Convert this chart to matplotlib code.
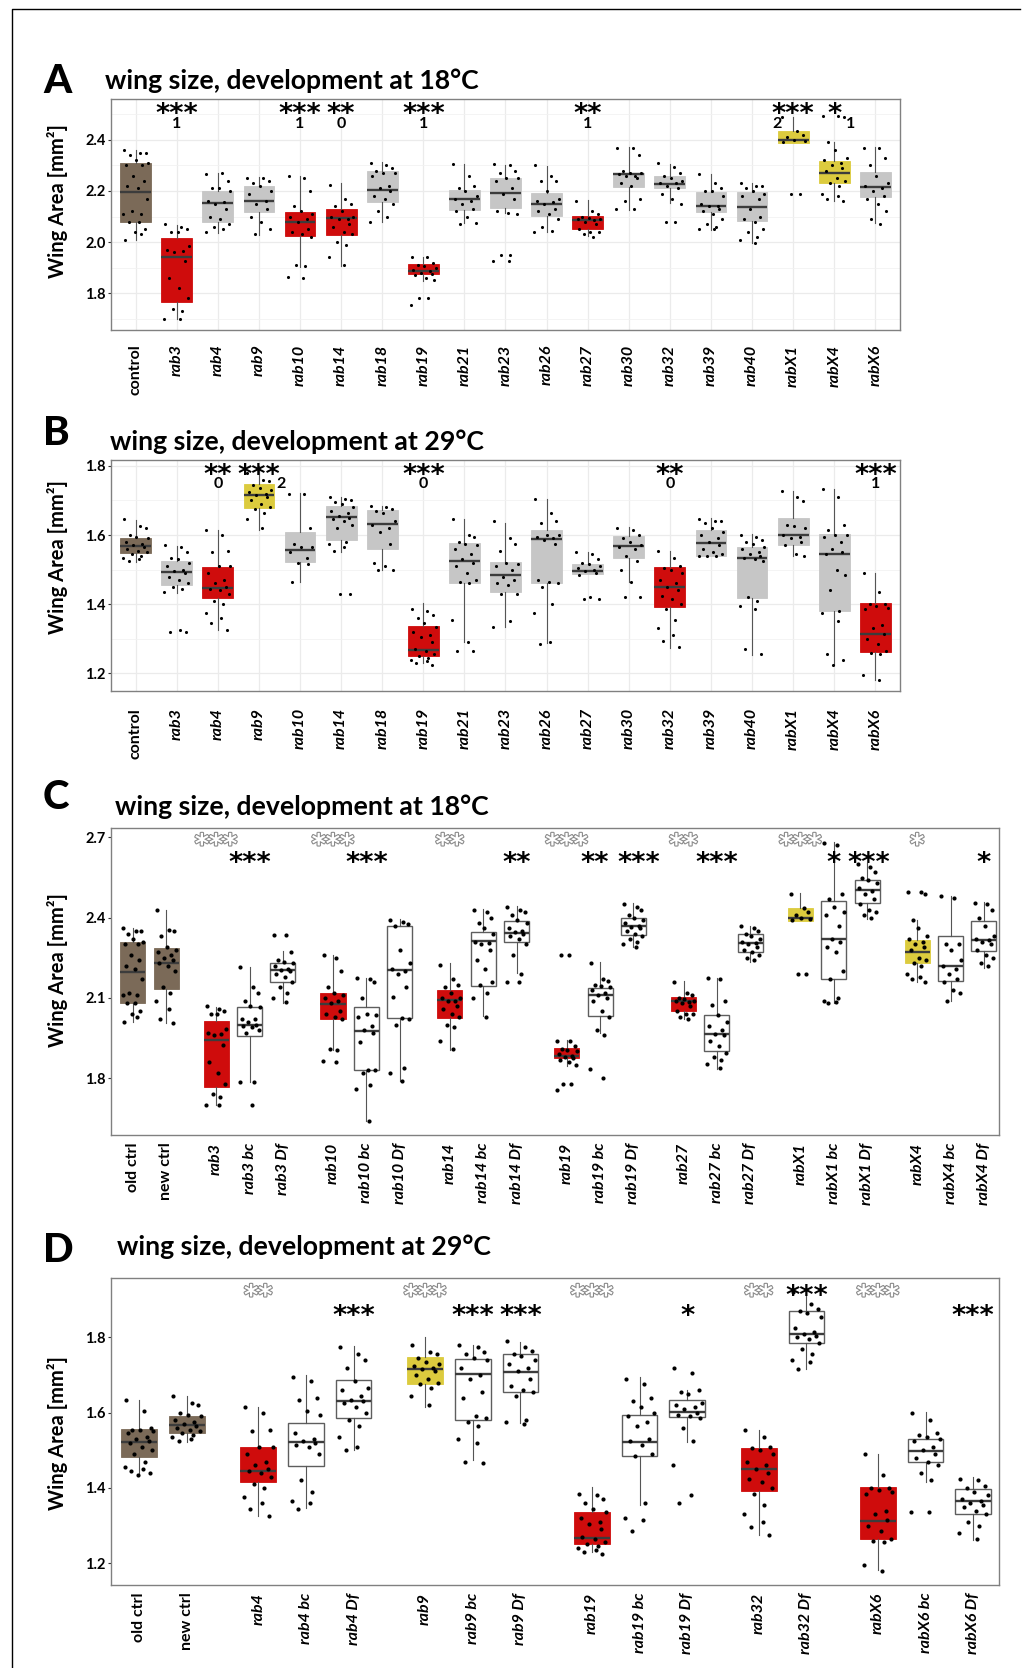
import matplotlib
matplotlib.use('Agg')
import matplotlib.pyplot as plt
import matplotlib.patheffects as pe
from matplotlib.lines import Line2D
from matplotlib.transforms import blended_transform_factory

plt.rcParams['font.family'] = ['Lato', 'DejaVu Sans']

W, H = 1023, 1668

# ---------------- panel A : 18C screen ----------------
a_labels = ['control', 'rab3', 'rab4', 'rab9', 'rab10', 'rab14', 'rab18', 'rab19', 'rab21', 'rab23',
            'rab26', 'rab27', 'rab30', 'rab32', 'rab39', 'rab40', 'rabX1', 'rabX4', 'rabX6']
a_fill = ['c', 'r', 'g', 'g', 'r', 'r', 'g', 'r', 'g', 'g', 'g', 'r', 'g', 'g', 'g', 'g', 'y', 'y', 'g']
a_lo = [2.01, 1.70, 2.037, 2.026, 1.904, 1.907, 2.077, 1.846, 2.074, 2.113,
        2.041, 2.022, 2.126, 2.152, 2.048, 1.996, 2.386, 2.159, 2.074]
a_q1 = [2.080, 1.767, 2.078, 2.116, 2.022, 2.026, 2.156, 1.876, 2.126, 2.133,
        2.103, 2.050, 2.217, 2.211, 2.116, 2.084, 2.386, 2.230, 2.178]
a_med = [2.197, 1.943, 2.152, 2.159, 2.078, 2.093, 2.204, 1.885, 2.168, 2.191,
         2.150, 2.087, 2.266, 2.228, 2.140, 2.139, 2.400, 2.271, 2.217]
a_q3 = [2.309, 2.015, 2.200, 2.221, 2.117, 2.129, 2.277, 1.913, 2.204, 2.250,
        2.191, 2.104, 2.272, 2.257, 2.198, 2.198, 2.435, 2.318, 2.273]
a_hi = [2.36, 2.067, 2.27, 2.253, 2.259, 2.23, 2.315, 1.943, 2.305, 2.302,
        2.298, 2.165, 2.374, 2.306, 2.266, 2.23, 2.491, 2.393, 2.371]
a_pts = [
    [2.36, 2.35, 2.35, 2.34, 2.32, 2.31, 2.30, 2.30, 2.26, 2.24, 2.22, 2.21, 2.17, 2.12, 2.11, 2.11, 2.08, 2.08, 2.05, 2.04, 2.03, 2.01],
    [2.07, 2.06, 2.05, 2.04, 2.04, 1.985, 1.97, 1.965, 1.96, 1.925, 1.86, 1.82, 1.78, 1.74, 1.73, 1.70, 1.70],
    [2.265, 2.27, 2.24, 2.21, 2.21, 2.2, 2.16, 2.155, 2.15, 2.13, 2.1, 2.09, 2.07, 2.06, 2.05, 2.04],
    [2.25, 2.25, 2.24, 2.23, 2.22, 2.2, 2.19, 2.16, 2.15, 2.13, 2.1, 2.08, 2.05, 2.03],
    [2.26, 2.25, 2.2, 2.14, 2.12, 2.11, 2.1, 2.09, 2.08, 2.05, 2.04, 2.03, 2.02, 1.91, 1.905, 1.865, 1.86],
    [2.225, 2.17, 2.15, 2.14, 2.12, 2.1, 2.1, 2.09, 2.09, 2.07, 2.06, 2.04, 2.03, 2.0, 1.99, 1.94, 1.91],
    [2.31, 2.3, 2.29, 2.28, 2.27, 2.27, 2.26, 2.22, 2.21, 2.2, 2.18, 2.17, 2.15, 2.12, 2.1, 2.08],
    [1.94, 1.94, 1.92, 1.91, 1.905, 1.9, 1.89, 1.885, 1.88, 1.875, 1.87, 1.86, 1.85, 1.78, 1.78, 1.755],
    [2.305, 2.26, 2.22, 2.21, 2.2, 2.18, 2.17, 2.16, 2.15, 2.13, 2.12, 2.1, 2.075, 2.07],
    [2.305, 2.3, 2.28, 2.27, 2.25, 2.25, 2.24, 2.21, 2.19, 2.17, 2.12, 2.115, 2.11, 1.95, 1.95, 1.925, 1.925],
    [2.3, 2.26, 2.24, 2.24, 2.2, 2.17, 2.16, 2.155, 2.15, 2.13, 2.12, 2.11, 2.09, 2.06, 2.045, 2.04],
    [2.16, 2.12, 2.11, 2.1, 2.095, 2.09, 2.09, 2.085, 2.08, 2.07, 2.05, 2.04, 2.04, 2.03, 2.02],
    [2.37, 2.37, 2.34, 2.28, 2.27, 2.27, 2.265, 2.26, 2.26, 2.25, 2.23, 2.22, 2.17, 2.16, 2.13, 2.13],
    [2.31, 2.295, 2.27, 2.26, 2.25, 2.24, 2.23, 2.23, 2.22, 2.21, 2.19, 2.17, 2.15, 2.08, 2.08],
    [2.265, 2.23, 2.21, 2.2, 2.2, 2.18, 2.15, 2.14, 2.14, 2.13, 2.12, 2.11, 2.09, 2.07, 2.06, 2.05, 2.05],
    [2.23, 2.22, 2.22, 2.21, 2.2, 2.19, 2.18, 2.17, 2.13, 2.1, 2.09, 2.08, 2.05, 2.04, 2.02, 2.01, 1.995],
    [2.49, 2.435, 2.42, 2.41, 2.4, 2.395, 2.39, 2.19, 2.19],
    [2.495, 2.495, 2.49, 2.39, 2.36, 2.33, 2.32, 2.31, 2.3, 2.29, 2.28, 2.25, 2.24, 2.23, 2.22, 2.19, 2.18, 2.17, 2.16],
    [2.37, 2.37, 2.33, 2.3, 2.26, 2.23, 2.22, 2.21, 2.2, 2.18, 2.17, 2.15, 2.12, 2.09, 2.07],
]
a_sig = {'rab3': '***', 'rab10': '***', 'rab14': '**', 'rab19': '***', 'rab27': '**', 'rabX1': '***', 'rabX4': '*'}
a_num = [('rab3', '1', 0), ('rab10', '1', 0), ('rab14', '0', 0), ('rab19', '1', 0), ('rab27', '1', 0),
         ('rabX1', '2', -0.4), ('rabX4', '1', 0.4)]

# ---------------- panel B : 29C screen ----------------
b_labels = a_labels
b_fill = ['c', 'g', 'r', 'y', 'g', 'g', 'g', 'r', 'g', 'g', 'g', 'g', 'g', 'r', 'g', 'g', 'g', 'g', 'r']
b_lo = [1.521, 1.432, 1.325, 1.615, 1.465, 1.552, 1.499, 1.229, 1.292, 1.335,
        1.289, 1.487, 1.465, 1.274, 1.54, 1.253, 1.538, 1.224, 1.181]
b_q1 = [1.547, 1.456, 1.417, 1.677, 1.523, 1.586, 1.561, 1.250, 1.462, 1.436,
        1.460, 1.487, 1.534, 1.391, 1.540, 1.417, 1.571, 1.380, 1.263]
b_med = [1.567, 1.493, 1.446, 1.717, 1.557, 1.651, 1.632, 1.268, 1.526, 1.483,
         1.588, 1.497, 1.567, 1.451, 1.576, 1.535, 1.600, 1.545, 1.313]
b_q3 = [1.591, 1.525, 1.509, 1.747, 1.608, 1.684, 1.673, 1.337, 1.576, 1.521,
        1.615, 1.515, 1.597, 1.507, 1.615, 1.564, 1.649, 1.603, 1.403]
b_hi = [1.644, 1.569, 1.615, 1.80, 1.721, 1.709, 1.684, 1.403, 1.646, 1.636,
        1.704, 1.552, 1.622, 1.554, 1.649, 1.602, 1.728, 1.732, 1.491]
b_pts = [
    [1.645, 1.625, 1.62, 1.6, 1.595, 1.59, 1.58, 1.575, 1.57, 1.565, 1.56, 1.555, 1.55, 1.545, 1.54, 1.535, 1.53, 1.525],
    [1.57, 1.565, 1.55, 1.535, 1.53, 1.52, 1.51, 1.5, 1.495, 1.49, 1.48, 1.47, 1.46, 1.45, 1.445, 1.435, 1.325, 1.32, 1.32],
    [1.615, 1.6, 1.555, 1.55, 1.51, 1.51, 1.49, 1.47, 1.46, 1.45, 1.445, 1.44, 1.43, 1.41, 1.4, 1.375, 1.36, 1.345, 1.325],
    [1.78, 1.76, 1.755, 1.745, 1.735, 1.73, 1.725, 1.72, 1.715, 1.71, 1.7, 1.69, 1.68, 1.675, 1.665, 1.645, 1.62],
    [1.72, 1.72, 1.62, 1.575, 1.565, 1.565, 1.55, 1.535, 1.52, 1.515, 1.465],
    [1.71, 1.705, 1.7, 1.695, 1.69, 1.68, 1.67, 1.665, 1.655, 1.65, 1.645, 1.64, 1.63, 1.62, 1.58, 1.575, 1.565, 1.555, 1.43, 1.43],
    [1.685, 1.68, 1.675, 1.67, 1.665, 1.64, 1.63, 1.62, 1.61, 1.575, 1.52, 1.51, 1.5, 1.5],
    [1.385, 1.38, 1.37, 1.36, 1.345, 1.335, 1.32, 1.31, 1.305, 1.29, 1.27, 1.265, 1.255, 1.25, 1.245, 1.24, 1.235, 1.23, 1.225],
    [1.645, 1.6, 1.595, 1.58, 1.575, 1.57, 1.56, 1.545, 1.53, 1.52, 1.51, 1.49, 1.47, 1.465, 1.46, 1.355, 1.29, 1.265, 1.265],
    [1.64, 1.59, 1.575, 1.555, 1.52, 1.515, 1.51, 1.5, 1.48, 1.47, 1.46, 1.455, 1.43, 1.43, 1.35, 1.335],
    [1.705, 1.665, 1.64, 1.635, 1.6, 1.6, 1.595, 1.59, 1.585, 1.575, 1.47, 1.465, 1.46, 1.45, 1.4, 1.375, 1.29, 1.285],
    [1.55, 1.545, 1.53, 1.52, 1.515, 1.51, 1.505, 1.5, 1.495, 1.49, 1.485, 1.42, 1.415, 1.415],
    [1.62, 1.615, 1.6, 1.59, 1.58, 1.57, 1.565, 1.56, 1.54, 1.525, 1.5, 1.465, 1.42, 1.42],
    [1.555, 1.535, 1.51, 1.505, 1.5, 1.49, 1.47, 1.46, 1.45, 1.44, 1.425, 1.415, 1.4, 1.385, 1.355, 1.33, 1.31, 1.295, 1.275],
    [1.645, 1.64, 1.64, 1.635, 1.62, 1.61, 1.6, 1.59, 1.58, 1.57, 1.56, 1.55, 1.545, 1.54, 1.54, 1.54],
    [1.6, 1.595, 1.585, 1.58, 1.575, 1.565, 1.56, 1.55, 1.545, 1.54, 1.535, 1.53, 1.525, 1.42, 1.41, 1.395, 1.385, 1.27, 1.255],
    [1.727, 1.71, 1.697, 1.63, 1.625, 1.62, 1.6, 1.595, 1.59, 1.58, 1.57, 1.545, 1.54],
    [1.733, 1.71, 1.63, 1.615, 1.6, 1.6, 1.595, 1.58, 1.56, 1.55, 1.545, 1.5, 1.485, 1.44, 1.38, 1.375, 1.35, 1.255, 1.24, 1.225],
    [1.49, 1.435, 1.4, 1.4, 1.395, 1.39, 1.385, 1.34, 1.33, 1.315, 1.3, 1.285, 1.265, 1.26, 1.255, 1.195, 1.18],
]
b_sig = {'rab4': '**', 'rab9': '***', 'rab19': '***', 'rab32': '**', 'rabX6': '***'}
b_num = [('rab4', '0', 0), ('rab9', '2', 0.55), ('rab19', '0', 0), ('rab32', '0', 0), ('rabX6', '1', 0)]

# ---------------- panel C : 18C validation ----------------
c_groups = [['old ctrl', 'new ctrl'], ['rab3', 'rab3 bc', 'rab3 Df'], ['rab10', 'rab10 bc', 'rab10 Df'],
            ['rab14', 'rab14 bc', 'rab14 Df'], ['rab19', 'rab19 bc', 'rab19 Df'],
            ['rab27', 'rab27 bc', 'rab27 Df'], ['rabX1', 'rabX1 bc', 'rabX1 Df'],
            ['rabX4', 'rabX4 bc', 'rabX4 Df']]
c_from_a = {'old ctrl': 'control'}   # lines shared with panel A
c_labels = ['new ctrl', 'rab3 bc', 'rab3 Df', 'rab10 bc', 'rab10 Df', 'rab14 bc', 'rab14 Df',
            'rab19 bc', 'rab19 Df', 'rab27 bc', 'rab27 Df', 'rabX1 bc', 'rabX1 Df', 'rabX4 bc', 'rabX4 Df']
c_lo = [2.006, 1.787, 2.083, 1.64, 1.791, 2.031, 2.193, 1.968, 2.289, 1.835, 2.236, 2.08, 2.395, 2.09, 2.211]
c_q1 = [2.134, 1.958, 2.161, 1.831, 2.024, 2.145, 2.308, 2.031, 2.336, 1.902, 2.270, 2.170, 2.454, 2.164, 2.274]
c_med = [2.230, 2.000, 2.203, 1.975, 2.205, 2.311, 2.342, 2.112, 2.367, 1.965, 2.307, 2.320, 2.504, 2.220, 2.317]
c_q3 = [2.286, 2.068, 2.230, 2.066, 2.370, 2.347, 2.388, 2.137, 2.398, 2.037, 2.340, 2.464, 2.542, 2.332, 2.386]
c_hi = [2.43, 2.215, 2.276, 2.174, 2.395, 2.432, 2.444, 2.233, 2.454, 2.174, 2.370, 2.681, 2.604, 2.482, 2.458]
c_pts = [
    [2.43, 2.355, 2.35, 2.33, 2.29, 2.28, 2.27, 2.26, 2.25, 2.24, 2.23, 2.22, 2.2, 2.14, 2.12, 2.09, 2.06, 2.02, 2.005],
    [2.215, 2.14, 2.12, 2.09, 2.07, 2.065, 2.02, 2.02, 2.01, 2.0, 1.995, 1.99, 1.98, 1.97, 1.785, 1.785, 1.7],
    [2.335, 2.335, 2.27, 2.24, 2.235, 2.23, 2.22, 2.21, 2.205, 2.2, 2.19, 2.18, 2.16, 2.14, 2.12, 2.1, 2.085],
    [2.175, 2.17, 2.16, 2.1, 2.04, 2.035, 2.03, 1.995, 1.98, 1.97, 1.935, 1.83, 1.83, 1.82, 1.775, 1.76, 1.64],
    [2.39, 2.385, 2.375, 2.37, 2.28, 2.23, 2.21, 2.2, 2.19, 2.14, 2.105, 2.025, 2.02, 2.0, 1.84, 1.82, 1.79],
    [2.43, 2.42, 2.4, 2.38, 2.36, 2.34, 2.31, 2.305, 2.3, 2.28, 2.24, 2.21, 2.16, 2.15, 2.12, 2.1, 2.03],
    [2.44, 2.43, 2.42, 2.41, 2.39, 2.38, 2.36, 2.35, 2.345, 2.34, 2.33, 2.32, 2.3, 2.26, 2.19, 2.16, 2.16],
    [2.23, 2.17, 2.165, 2.15, 2.145, 2.14, 2.13, 2.12, 2.11, 2.1, 2.09, 2.05, 2.03, 1.98, 1.96, 1.835, 1.8],
    [2.45, 2.44, 2.43, 2.41, 2.4, 2.39, 2.38, 2.37, 2.365, 2.36, 2.35, 2.34, 2.33, 2.32, 2.31, 2.3, 2.29],
    [2.175, 2.17, 2.09, 2.075, 2.035, 2.01, 1.995, 1.98, 1.965, 1.96, 1.94, 1.92, 1.895, 1.88, 1.87, 1.855, 1.84],
    [2.37, 2.36, 2.35, 2.34, 2.33, 2.32, 2.31, 2.305, 2.3, 2.29, 2.28, 2.27, 2.26, 2.25, 2.24],
    [2.68, 2.67, 2.49, 2.47, 2.44, 2.42, 2.41, 2.37, 2.32, 2.31, 2.29, 2.27, 2.2, 2.17, 2.1, 2.09, 2.085, 2.08],
    [2.6, 2.59, 2.57, 2.55, 2.54, 2.53, 2.51, 2.5, 2.49, 2.47, 2.45, 2.43, 2.42, 2.41, 2.4],
    [2.48, 2.475, 2.3, 2.3, 2.28, 2.24, 2.22, 2.21, 2.19, 2.17, 2.16, 2.13, 2.12, 2.09],
    [2.455, 2.45, 2.43, 2.4, 2.37, 2.33, 2.32, 2.315, 2.31, 2.3, 2.28, 2.26, 2.25, 2.23, 2.22],
]
c_rab19_extra = [2.26, 2.26]
c_gray = {'rab3': '***', 'rab10': '***', 'rab14': '**', 'rab19': '***', 'rab27': '**', 'rabX1': '***', 'rabX4': '*'}
c_black = [('rab3 bc', '***', 0), ('rab10 bc', '***', 0), ('rab14 Df', '**', 0), ('rab19 bc', '**', -0.15),
           ('rab19 Df', '***', 0.15), ('rab27 bc', '***', 0), ('rabX1 bc', '*', 0), ('rabX1 Df', '***', 0.05),
           ('rabX4 Df', '*', 0)]

# ---------------- panel D : 29C validation ----------------
d_groups = [['old ctrl', 'new ctrl'], ['rab4', 'rab4 bc', 'rab4 Df'], ['rab9', 'rab9 bc', 'rab9 Df'],
            ['rab19', 'rab19 bc', 'rab19 Df'], ['rab32', 'rab32 Df'], ['rabX6', 'rabX6 bc', 'rabX6 Df']]
d_from_b = {'new ctrl': 'control'}   # lines shared with panel B
d_labels = ['old ctrl', 'rab4 bc', 'rab4 Df', 'rab9 bc', 'rab9 Df', 'rab19 bc', 'rab19 Df',
            'rab32 Df', 'rabX6 bc', 'rabX6 Df']
d_lo = [1.439, 1.346, 1.501, 1.475, 1.572, 1.355, 1.521, 1.716, 1.417, 1.262]
d_q1 = [1.481, 1.457, 1.586, 1.581, 1.654, 1.484, 1.588, 1.785, 1.469, 1.330]
d_med = [1.523, 1.523, 1.632, 1.703, 1.707, 1.522, 1.602, 1.808, 1.498, 1.364]
d_q3 = [1.556, 1.572, 1.687, 1.742, 1.756, 1.595, 1.633, 1.869, 1.530, 1.397]
d_hi = [1.634, 1.699, 1.778, 1.780, 1.788, 1.695, 1.661, 1.920, 1.603, 1.429]
d_pts = [
    [1.635, 1.605, 1.56, 1.555, 1.555, 1.55, 1.545, 1.535, 1.53, 1.525, 1.52, 1.51, 1.5, 1.49, 1.47, 1.455, 1.45, 1.445, 1.44, 1.435],
    [1.695, 1.685, 1.64, 1.635, 1.605, 1.595, 1.545, 1.53, 1.525, 1.52, 1.515, 1.51, 1.49, 1.42, 1.39, 1.365, 1.36, 1.345],
    [1.775, 1.755, 1.74, 1.72, 1.685, 1.665, 1.66, 1.645, 1.635, 1.63, 1.625, 1.615, 1.6, 1.58, 1.565, 1.535, 1.51, 1.5],
    [1.78, 1.775, 1.76, 1.755, 1.745, 1.74, 1.72, 1.7, 1.69, 1.655, 1.64, 1.59, 1.585, 1.575, 1.565, 1.53, 1.52, 1.47, 1.465],
    [1.79, 1.775, 1.765, 1.755, 1.75, 1.74, 1.73, 1.72, 1.71, 1.69, 1.67, 1.66, 1.655, 1.645, 1.58, 1.575, 1.57],
    [1.69, 1.675, 1.64, 1.63, 1.615, 1.6, 1.59, 1.575, 1.565, 1.53, 1.525, 1.515, 1.49, 1.485, 1.36, 1.32, 1.315, 1.285],
    [1.72, 1.705, 1.66, 1.655, 1.65, 1.625, 1.62, 1.615, 1.61, 1.6, 1.595, 1.59, 1.585, 1.56, 1.525, 1.46, 1.38, 1.36],
    [1.92, 1.89, 1.875, 1.87, 1.865, 1.855, 1.825, 1.815, 1.81, 1.805, 1.8, 1.795, 1.785, 1.77, 1.755, 1.74, 1.735, 1.715],
    [1.6, 1.58, 1.545, 1.54, 1.535, 1.53, 1.525, 1.51, 1.5, 1.49, 1.48, 1.47, 1.46, 1.44, 1.42, 1.335, 1.335],
    [1.425, 1.42, 1.405, 1.4, 1.39, 1.38, 1.37, 1.365, 1.36, 1.355, 1.35, 1.34, 1.33, 1.31, 1.3, 1.28, 1.265],
]
d_gray = {'rab4': '**', 'rab9': '***', 'rab19': '***', 'rab32': '**', 'rabX6': '***'}
d_black = {'rab4 Df': '***', 'rab9 bc': '***', 'rab9 Df': '***', 'rab19 Df': '*', 'rabX6 Df': '***'}
d_black_high = {'rab32 Df': '***'}

# ---------------- styling ----------------
FILLS = {'c': '#7b6a58', 'r': '#cf0c0c', 'y': '#dccb3e', 'g': '#c6c6c6', 'w': 'white'}
RED = ['rab3', 'rab10', 'rab14', 'rab19', 'rab27', 'rab4', 'rab32', 'rabX6']
YEL = ['rabX1', 'rabX4', 'rab9']
JIT = [-0.28, 0.10, 0.24, -0.14, 0.02, 0.30, -0.24, 0.16, -0.06, 0.20, -0.20, 0.06,
       0.27, -0.10, 0.12, -0.30, 0.08, -0.17, 0.22, -0.02, 0.14, -0.26]
STAR_FONT = ['DejaVu Sans']


def table(labels, lo, q1, med, q3, hi, pts):
    return {lab: (lo[i], q1[i], med[i], q3[i], hi[i], pts[i]) for i, lab in enumerate(labels)}


A = table(a_labels, a_lo, a_q1, a_med, a_q3, a_hi, a_pts)
B = table(b_labels, b_lo, b_q1, b_med, b_q3, b_hi, b_pts)
C = table(c_labels, c_lo, c_q1, c_med, c_q3, c_hi, c_pts)
D = table(d_labels, d_lo, d_q1, d_med, d_q3, d_hi, d_pts)
for lab in a_labels:
    if lab not in C:
        C[lab] = A[lab]
for k, v in c_from_a.items():
    C[k] = A[v]
C['rab19'] = C['rab19'][:5] + (C['rab19'][5] + c_rab19_extra,)
for lab in b_labels:
    if lab not in D:
        D[lab] = B[lab]
for k, v in d_from_b.items():
    D[k] = B[v]


def fill_of(lab):
    if 'ctrl' in lab or lab == 'control':
        return 'c'
    if ' ' in lab:
        return 'w'
    if lab in RED:
        return 'r'
    if lab in YEL:
        return 'y'
    return 'g'


def positions(groups, gap=1.5):
    labs, pos, x = [], [], 0.0
    for gi, g in enumerate(groups):
        if gi > 0:
            x += gap - 1
        for lab in g:
            labs.append(lab)
            pos.append(x)
            x += 1
    return labs, pos


fig = plt.figure(figsize=(W / 100, H / 100), dpi=100)
fig.patch.set_facecolor('white')


def make_axes(x0, y0, x1, y1):
    return fig.add_axes([x0 / W, 1 - y1 / H, (x1 - x0) / W, (y1 - y0) / H])


def draw_panel(ax, labs, pos, data, fills, ylim, yticks, grid, minor=None, dot=5):
    stats = [dict(whislo=data[l][0], q1=data[l][1], med=data[l][2], q3=data[l][3],
                  whishi=data[l][4], fliers=[]) for l in labs]
    bp = ax.bxp(stats, positions=pos, widths=0.75, patch_artist=True, showfliers=False,
                showcaps=False, manage_ticks=False,
                whiskerprops=dict(color='#555555', lw=0.8),
                medianprops=dict(color='#3c3c3c', lw=1.7, solid_capstyle='butt'))
    for box, f in zip(bp['boxes'], fills):
        if f == 'w':
            box.set_facecolor('white')
            box.set_edgecolor('#5e5e5e')
            box.set_linewidth(1.0)
        else:
            box.set_facecolor(FILLS[f])
            box.set_edgecolor(FILLS[f])
            box.set_linewidth(0.6)
        box.set_zorder(2)
    for m in bp['medians']:
        m.set_zorder(3)
    for l, p in zip(labs, pos):
        ys = data[l][5]
        xs = [p + JIT[k % len(JIT)] for k in range(len(ys))]
        ax.scatter(xs, ys, s=dot, color='black', zorder=4, linewidths=0)
    ax.set_ylim(*ylim)
    ax.set_yticks(yticks)
    ax.set_yticklabels(['%.1f' % t for t in yticks], fontsize=10.5, fontweight='bold')
    ax.set_xticks(pos)
    ax.set_xticklabels(labs, rotation=90, fontsize=11.5, fontweight='bold')
    for t in ax.get_xticklabels():
        if 'ctrl' not in t.get_text() and t.get_text() != 'control':
            t.set_style('italic')
    ax.tick_params(axis='x', length=0)
    ax.tick_params(axis='y', length=2.5, width=0.8, color='#333333', pad=1.5)
    for s in ax.spines.values():
        s.set_color('#808080')
        s.set_linewidth(1.0)
    if grid:
        ax.set_axisbelow(True)
        ax.grid(True, which='major', color='#ebebeb', lw=0.9)
        if minor:
            ax.set_yticks(minor, minor=True)
            ax.tick_params(axis='y', which='minor', length=0)
            ax.grid(True, which='minor', axis='y', color='#f2f2f2', lw=0.6)


def yfrac(px, top, bot):
    return (bot - px) / (bot - top)


def stars(ax, x, txt, yf, gray=False, size=19.5):
    tr = blended_transform_factory(ax.transData, ax.transAxes)
    if gray:
        ax.text(x, yf, txt, transform=tr, ha='center', va='center', fontsize=size, color='white',
                fontweight='bold', family=STAR_FONT, zorder=6,
                path_effects=[pe.withStroke(linewidth=1.6, foreground='#8a8a8a')])
    else:
        ax.text(x, yf, txt, transform=tr, ha='center', va='center', fontsize=size, color='black',
                fontweight='bold', family=STAR_FONT, zorder=6)


def num(ax, x, txt, yf):
    tr = blended_transform_factory(ax.transData, ax.transAxes)
    ax.text(x, yf, txt, transform=tr, ha='center', va='center', fontsize=11.5, color='black',
            fontweight='bold', zorder=6)


# ---- panel A ----
axA = make_axes(111, 99, 900, 330)
posA = list(range(len(a_labels)))
draw_panel(axA, a_labels, posA, A, a_fill, (1.656, 2.56), [1.8, 2.0, 2.2, 2.4], True,
           minor=[1.7, 1.9, 2.1, 2.3, 2.5])
axA.set_xlim(-0.6, len(a_labels) - 0.4)
for lab, s in a_sig.items():
    stars(axA, a_labels.index(lab), s, yfrac(115, 99, 330))
for lab, n, dx in a_num:
    num(axA, a_labels.index(lab) + dx, n, yfrac(124, 99, 330))

# ---- panel B ----
axB = make_axes(111, 460, 900, 691)
draw_panel(axB, b_labels, posA, B, b_fill, (1.149, 1.817), [1.2, 1.4, 1.6, 1.8], True,
           minor=[1.3, 1.5, 1.7])
axB.set_xlim(-0.6, len(b_labels) - 0.4)
for lab, s in b_sig.items():
    stars(axB, b_labels.index(lab), s, yfrac(476, 460, 691))
for lab, n, dx in b_num:
    num(axB, b_labels.index(lab) + dx, n, yfrac(484, 460, 691))

# ---- panel C ----
axC = make_axes(111, 828, 999, 1135)
labsC, posC = positions(c_groups)
draw_panel(axC, labsC, posC, C, [fill_of(l) for l in labsC], (1.588, 2.735), [1.8, 2.1, 2.4, 2.7], False,
           dot=9)
axC.set_xlim(-0.65, posC[-1] + 0.45)
for lab, s in c_gray.items():
    stars(axC, posC[labsC.index(lab)], s, yfrac(846, 828, 1135), gray=True)
for lab, s, dx in c_black:
    stars(axC, posC[labsC.index(lab)] + dx, s, yfrac(864, 828, 1135))

# ---- panel D ----
axD = make_axes(111, 1278, 999, 1585)
labsD, posD = positions(d_groups)
draw_panel(axD, labsD, posD, D, [fill_of(l) for l in labsD], (1.142, 1.958), [1.2, 1.4, 1.6, 1.8], False,
           dot=9)
axD.set_xlim(-0.59, posD[-1] + 0.54)
for lab, s in d_gray.items():
    stars(axD, posD[labsD.index(lab)], s, yfrac(1297, 1278, 1585), gray=True)
for lab, s in d_black.items():
    stars(axD, posD[labsD.index(lab)], s, yfrac(1317, 1278, 1585))
for lab, s in d_black_high.items():
    stars(axD, posD[labsD.index(lab)], s, yfrac(1297, 1278, 1585))

for ax, pad in [(axA, 10.5), (axB, 12.5), (axC, 5.5), (axD, 5.5)]:
    ax.tick_params(axis='x', pad=pad)

# ---- letters, titles, y labels ----
panels = [('A', 92.7, 'wing size, development at 18°C', 105, 89, 201),
          ('B', 445, 'wing size, development at 29°C', 110, 450, 557),
          ('C', 809, 'wing size, development at 18°C', 115, 815, 970),
          ('D', 1262, 'wing size, development at 29°C', 117, 1255, 1433)]
for letter, ly, title, tx, ty, yl in panels:
    fig.text(43 / W, 1 - ly / H, letter, fontsize=29, fontweight='black', ha='left', va='baseline')
    fig.text(tx / W, 1 - ty / H, title, fontsize=19.2, fontweight='bold', ha='left', va='baseline')
    fig.text(58 / W, 1 - yl / H, 'Wing Area [mm²]', fontsize=14.5, fontweight='bold', rotation=90,
             ha='center', va='center')

# outer frame (left and top edges only)
fig.add_artist(Line2D([11.7 / W, 11.7 / W, 1020 / W], [0, 1 - 9.3 / H, 1 - 9.3 / H],
                      transform=fig.transFigure, color='black', lw=1.0))

fig.savefig('out.png', dpi=100, facecolor='white')
